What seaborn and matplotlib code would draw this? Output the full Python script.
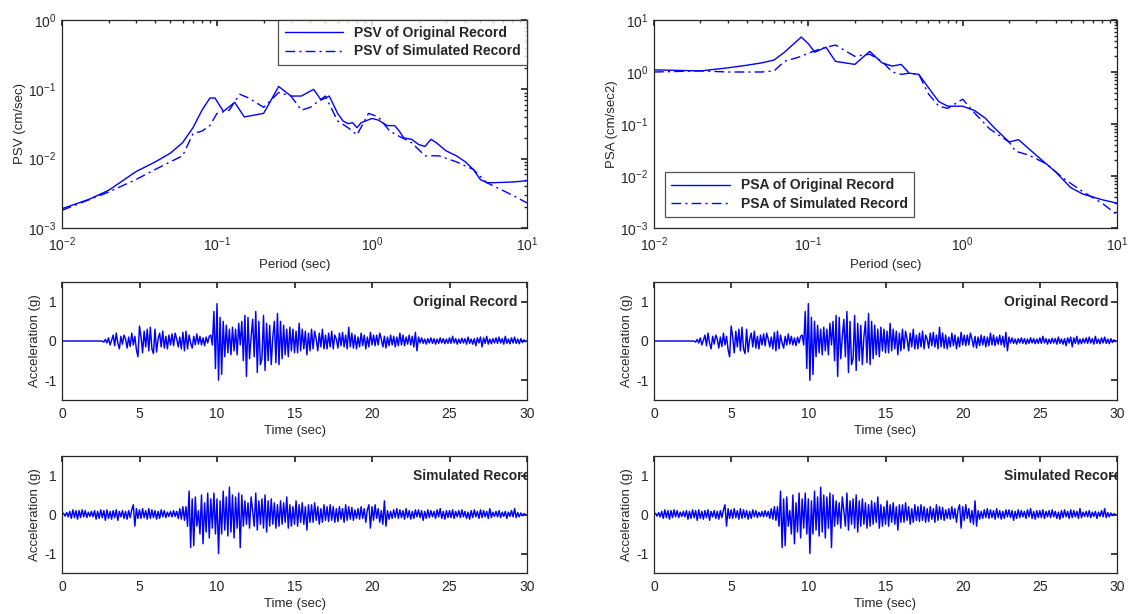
import numpy as np
import pandas as pd
import matplotlib
matplotlib.use("Agg")
import matplotlib.pyplot as plt
import seaborn as sns

# ---------------- data ----------------
psv_period_orig = [0.01, 0.015, 0.02, 0.03, 0.04, 0.05, 0.06, 0.07, 0.08, 0.09, 0.097, 0.11, 0.13, 0.15,
                   0.2, 0.25, 0.3, 0.35, 0.42, 0.47, 0.53, 0.6, 0.65, 0.7, 0.75, 0.8, 0.85, 1.0, 1.1,
                   1.25, 1.4, 1.5, 1.6, 1.8, 2.0, 2.2, 2.4, 2.6, 3.0, 3.5, 4.0, 4.5, 5.0, 5.5, 6.0,
                   8.0, 10.0]
psv_orig = [0.0019, 0.0026, 0.0035, 0.0065, 0.009, 0.012, 0.017, 0.028, 0.05, 0.075, 0.075, 0.048,
            0.065, 0.04, 0.045, 0.11, 0.08, 0.08, 0.1, 0.07, 0.08, 0.045, 0.035, 0.032, 0.033, 0.028,
            0.033, 0.038, 0.036, 0.03, 0.03, 0.025, 0.02, 0.019, 0.016, 0.015, 0.019, 0.017, 0.013,
            0.011, 0.009, 0.007, 0.005, 0.0045, 0.0045, 0.0046, 0.0048]

psv_period_sim = [0.01, 0.02, 0.03, 0.04, 0.05, 0.06, 0.07, 0.08, 0.09, 0.1, 0.12, 0.14, 0.16, 0.2,
                  0.25, 0.3, 0.35, 0.4, 0.5, 0.6, 0.7, 0.8, 0.95, 1.1, 1.3, 1.5, 1.8, 2.2, 2.7, 3.5,
                  4.5, 5.5, 8.0, 10.0]
psv_sim = [0.0018, 0.0033, 0.005, 0.007, 0.009, 0.011, 0.023, 0.025, 0.03, 0.045, 0.05, 0.085, 0.075,
           0.055, 0.09, 0.08, 0.05, 0.055, 0.08, 0.035, 0.028, 0.022, 0.045, 0.04, 0.025, 0.021, 0.017,
           0.011, 0.011, 0.009, 0.007, 0.0045, 0.003, 0.0023]

psa_period_orig = [0.01, 0.02, 0.03, 0.04, 0.05, 0.06, 0.07, 0.09, 0.1, 0.11, 0.13, 0.15, 0.2, 0.25,
                   0.3, 0.35, 0.4, 0.45, 0.52, 0.6, 0.7, 0.8, 1.0, 1.2, 1.4, 1.6, 2.0, 2.3, 3.0, 4.0,
                   5.0, 6.0, 8.0, 10.0]
psa_orig = [1.1, 1.05, 1.2, 1.35, 1.5, 1.7, 2.4, 4.7, 3.5, 2.4, 3.0, 1.6, 1.4, 2.5, 1.5, 1.3, 1.4,
            0.95, 0.9, 0.5, 0.27, 0.22, 0.22, 0.18, 0.13, 0.085, 0.045, 0.05, 0.025, 0.012, 0.006,
            0.0045, 0.0035, 0.003]

psa_period_sim = [0.01, 0.02, 0.03, 0.05, 0.06, 0.07, 0.09, 0.1, 0.12, 0.15, 0.2, 0.25, 0.3, 0.35,
                  0.4, 0.45, 0.52, 0.6, 0.7, 0.8, 1.0, 1.2, 1.5, 2.0, 2.2, 2.7, 3.5, 4.5, 6.0, 8.0, 10.0]
psa_sim = [1.0, 1.05, 1.0, 1.0, 1.05, 1.6, 2.0, 2.3, 2.8, 3.3, 2.0, 2.2, 1.6, 1.0, 0.9, 0.95, 0.9,
           0.38, 0.22, 0.2, 0.3, 0.16, 0.08, 0.045, 0.03, 0.025, 0.017, 0.009, 0.005, 0.003, 0.0018]

dt = 0.1
acc_original = [
    0, 0, 0, 0, 0, 0, 0, 0, 0, 0,
    0, 0, 0, 0, 0, 0, 0, 0, 0, 0,
    0, 0, 0, 0, 0, 0, 0, -0.03, 0.04, -0.05,
    0.08, -0.1, 0.02, 0.15, -0.12, 0.2, -0.05, -0.2, 0.12, -0.08,
    0.15, 0.05, -0.18, 0.1, -0.14, 0.2, -0.1, 0.12, -0.22, -0.4,
    0.38, 0.1, -0.3, 0.25, -0.15, 0.3, -0.25, 0.35, -0.2, -0.32,
    0.3, -0.28, 0.05, 0.2, -0.15, 0.25, -0.18, 0.12, -0.2, 0.15,
    -0.1, 0.18, -0.12, 0.2, 0.05, -0.15, 0.1, -0.2, 0.22, -0.25,
    0.25, -0.2, 0.15, -0.05, -0.18, 0.12, -0.1, 0.18, -0.08, 0.12,
    -0.1, 0.08, -0.12, 0.1, -0.05, 0.12, 0.15, -0.1, 0.75, -0.7,
    0.95, -1.0, 0.6, -0.85, 0.5, -0.4, 0.4, -0.3, 0.3, -0.35,
    0.35, -0.25, 0.3, -0.35, 0.45, -0.1, 0.5, -0.5, 0.65, -0.9,
    0.6, -0.45, 0.1, 0.55, -0.4, 0.75, -0.8, 0.5, -0.6, -0.45,
    0.65, -0.75, 0.45, -0.5, 0.4, -0.6, 0.1, 0.5, -0.55, 0.7,
    -0.6, 0.5, -0.45, 0.4, -0.35, 0.3, -0.4, 0.35, -0.25, 0.3,
    -0.3, 0.25, -0.3, 0.45, -0.25, 0.3, -0.2, 0.25, -0.35, 0.2,
    -0.25, 0.3, -0.2, 0.25, 0.05, -0.25, 0.2, -0.15, 0.3, -0.2,
    0.15, -0.2, 0.2, -0.15, 0.25, -0.2, 0.15, 0.05, -0.18, 0.2,
    -0.12, 0.22, -0.15, 0.15, -0.2, 0.35, -0.15, 0.2, -0.18, 0.15,
    -0.2, 0.1, -0.15, 0.2, -0.12, 0.15, -0.2, 0.1, -0.15, 0.22,
    -0.1, 0.15, -0.12, 0.15, -0.1, 0.2, 0.05, -0.15, 0.12, -0.18,
    0.1, -0.12, 0.15, -0.1, 0.12, -0.15, 0.1, -0.12, 0.2, -0.1,
    0.15, -0.12, 0.1, -0.08, 0.15, -0.1, 0.12, -0.15, 0.22, -0.25,
    0.1, -0.05, 0.08, -0.06, 0.05, -0.08, 0.06, -0.05, 0.08, -0.06,
    0.06, -0.08, 0.05, -0.06, 0.08, -0.05, 0.06, -0.07, 0.05, -0.06,
    0.08, -0.06, 0.12, -0.05, 0.06, -0.08, 0.05, -0.06, 0.07, -0.05,
    0.06, -0.08, 0.1, -0.06, 0.05, -0.08, 0.06, -0.12, 0.08, -0.05,
    0.1, -0.15, 0.08, -0.06, 0.12, -0.08, 0.05, -0.07, 0.06, -0.05,
    0.08, -0.06, 0.1, -0.05, 0.06, -0.08, 0.12, -0.06, 0.05, -0.07,
    0.08, -0.05, 0.1, -0.06, 0.05, -0.07, 0.06, -0.04, 0.03, -0.02,
]
acc_simulated = [
    0, 0.03, -0.04, 0.05, -0.06, 0.08, -0.1, 0.12, -0.08, 0.1,
    -0.12, 0.1, -0.08, 0.12, -0.06, 0.1, -0.08, 0.06, -0.05, 0.08,
    -0.06, 0.1, -0.12, 0.08, -0.1, 0.12, -0.08, 0.1, -0.15, 0.12,
    -0.1, 0.08, -0.12, 0.1, -0.08, 0.12, -0.15, 0.08, -0.06, 0.1,
    -0.1, 0.08, -0.12, 0.1, -0.08, 0.12, 0.25, -0.3, 0.15, -0.1,
    0.12, -0.1, 0.15, -0.08, 0.1, -0.12, 0.15, -0.1, 0.12, -0.08,
    0.1, -0.12, 0.08, -0.1, 0.12, -0.06, 0.1, -0.08, 0.06, -0.05,
    0.08, -0.06, 0.1, -0.05, 0.08, -0.1, 0.15, -0.12, 0.2, -0.15,
    0.2, -0.3, 0.6, -0.85, 0.4, -0.8, 0.45, -0.3, 0.1, -0.5,
    0.5, -0.75, 0.3, -0.45, 0.55, -0.6, 0.4, -0.35, 0.55, -0.5,
    0.4, -1.0, 0.35, -0.5, 0.6, -0.4, 0.45, -0.55, 0.7, -0.45,
    0.5, -0.6, 0.45, -0.35, 0.55, -0.85, 0.5, -0.3, 0.35, -0.25,
    0.3, -0.35, 0.45, 0.1, -0.3, 0.55, -0.4, 0.35, -0.25, 0.4,
    -0.35, 0.5, -0.45, 0.35, -0.3, 0.4, -0.25, 0.3, -0.35, 0.25,
    -0.3, 0.35, -0.25, 0.3, -0.2, 0.45, -0.35, 0.25, -0.3, 0.2,
    -0.25, 0.35, -0.3, 0.25, -0.2, 0.3, -0.25, 0.2, -0.4, 0.25,
    -0.2, 0.25, -0.2, 0.3, -0.15, 0.2, -0.25, 0.15, -0.2, 0.25,
    -0.15, 0.2, -0.18, 0.25, -0.15, 0.2, -0.2, 0.15, -0.18, 0.2,
    -0.12, 0.15, -0.2, 0.25, -0.15, 0.2, -0.12, 0.18, -0.15, 0.12,
    -0.1, 0.15, -0.12, 0.2, -0.1, 0.15, -0.2, 0.12, 0.25, -0.35,
    0.2, -0.15, 0.25, -0.1, 0.15, -0.2, 0.1, -0.25, 0.35, -0.3,
    0.1, -0.12, 0.08, -0.1, 0.12, -0.08, 0.15, -0.1, 0.12, -0.08,
    0.1, -0.12, 0.15, -0.08, 0.1, -0.12, 0.08, -0.1, 0.12, -0.06,
    0.12, -0.08, 0.1, -0.15, 0.08, -0.1, 0.12, -0.08, 0.1, -0.06,
    0.08, -0.1, 0.12, -0.06, 0.15, -0.1, 0.08, -0.12, 0.1, -0.08,
    0.1, -0.08, 0.12, -0.1, 0.08, -0.06, 0.1, -0.08, 0.12, -0.06,
    0.08, -0.1, 0.06, -0.12, 0.1, -0.08, 0.12, -0.06, 0.08, -0.1,
    0.12, -0.08, 0.1, -0.06, 0.08, -0.1, 0.15, -0.08, 0.06, -0.05,
    0.08, -0.06, 0.1, -0.08, 0.06, -0.05, 0.08, -0.1, 0.06, -0.05,
    0.1, -0.06, 0.15, -0.08, 0.05, -0.06, 0.04, -0.03, 0.02, 0,
]
time = [round(i * dt, 2) for i in range(len(acc_original))]
time_ticks = [0, 5, 10, 15, 20, 25, 30]
acc_ticks = [-1, 0, 1]

# ---------------- style ----------------
sns.set_theme(style="white")
plt.rcParams['font.family'] = ['Liberation Sans', 'DejaVu Sans']
plt.rcParams['mathtext.default'] = 'regular'
plt.rcParams['axes.unicode_minus'] = False
TXT = '#262626'
plt.rcParams.update({
    'xtick.direction': 'in', 'ytick.direction': 'in',
    'xtick.top': True, 'ytick.right': True,
    'xtick.minor.top': True, 'ytick.minor.right': True,
    'xtick.major.size': 4, 'ytick.major.size': 4,
    'xtick.minor.size': 2, 'ytick.minor.size': 2,
    'xtick.major.pad': 5, 'ytick.major.pad': 4,
    'xtick.color': TXT, 'ytick.color': TXT,
    'xtick.labelcolor': TXT, 'ytick.labelcolor': TXT,
    'axes.edgecolor': TXT, 'axes.labelcolor': TXT,
    'axes.linewidth': 0.9,
    'font.size': 9.5, 'xtick.labelsize': 10, 'ytick.labelsize': 10,
    'axes.labelsize': 9.5,
})
BLUE = '#0000ff'

W, H = 1129, 614
fig = plt.figure(figsize=(W / 100, H / 100), dpi=100)

def add_ax(x0, y0, x1, y1):
    return fig.add_axes([x0 / W, 1 - y1 / H, (x1 - x0) / W, (y1 - y0) / H])

ax_psv = add_ax(62, 20, 527, 228)
ax_psa = add_ax(654, 20, 1117, 228)
ax_o1 = add_ax(62, 282, 527, 400)
ax_s1 = add_ax(62, 456, 527, 573)
ax_o2 = add_ax(654, 282, 1117, 400)
ax_s2 = add_ax(654, 456, 1117, 573)

def spectrum(ax, px, py, sx, sy, ylab, ylim, labels, loc, pad):
    sns.lineplot(x=px, y=py, ax=ax, color=BLUE, lw=1.0, label=labels[0], sort=False, estimator=None)
    sns.lineplot(x=sx, y=sy, ax=ax, color=BLUE, lw=1.0, linestyle=(0, (7, 3, 1.5, 3)),
                 label=labels[1], sort=False, estimator=None)
    ax.set_xscale('log')
    ax.set_yscale('log')
    ax.set_xlim(1e-2, 1e1)
    ax.set_ylim(*ylim)
    ax.set_xlabel('Period (sec)', labelpad=4)
    ax.set_ylabel(ylab, labelpad=2)
    leg = ax.legend(loc=loc, frameon=True, fancybox=False, edgecolor=TXT, borderaxespad=pad,
                    prop={'weight': 'bold', 'size': 10}, handlelength=4.2, borderpad=0.45,
                    labelspacing=0.3)
    leg.get_frame().set_linewidth(0.9)
    for t in leg.get_texts():
        t.set_color(TXT)
    ax.tick_params(which='both', top=True, right=True)

spectrum(ax_psv, psv_period_orig, psv_orig, psv_period_sim, psv_sim, 'PSV (cm/sec)', (1e-3, 1e0),
         ['PSV of Original Record', 'PSV of Simulated Record'], 'upper right', 0.0)
spectrum(ax_psa, psa_period_orig, psa_orig, psa_period_sim, psa_sim, 'PSA (cm/sec2)', (1e-3, 1e1),
         ['PSA of Original Record', 'PSA of Simulated Record'], 'lower left', 0.8)

def history(ax, acc, title):
    sns.lineplot(x=time, y=acc, ax=ax, color=BLUE, lw=1.05, sort=False, estimator=None)
    ax.set_xlim(0, 30)
    ax.set_ylim(-1.5, 1.5)
    ax.set_xticks(time_ticks)
    ax.set_yticks(acc_ticks)
    ax.set_xlabel('Time (sec)', labelpad=3)
    ax.set_ylabel('Acceleration (g)', labelpad=2)
    ax.tick_params(top=True, right=True)
    ax.text(22.65, 1.0, title, fontsize=10, fontweight='bold', color=TXT, ha='left', va='center',
            clip_on=True)

history(ax_o1, acc_original, 'Original Record')
history(ax_s1, acc_simulated, 'Simulated Record')
history(ax_o2, acc_original, 'Original Record')
history(ax_s2, acc_simulated, 'Simulated Record')

fig.savefig('out.png', dpi=100)
